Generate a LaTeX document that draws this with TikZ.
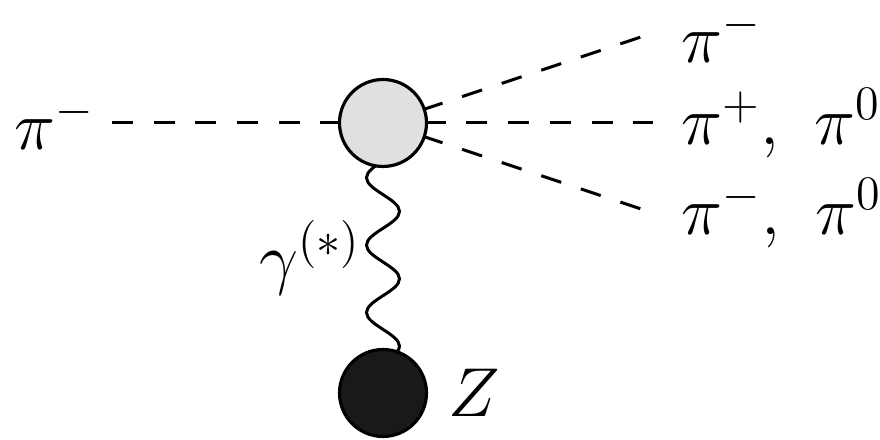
\documentclass[tikz,border=0pt]{standalone}
\usepackage{tikz}
\usetikzlibrary{positioning, decorations.pathmorphing, backgrounds}
\tikzset{
    blob/.style={draw, circle, line width=0.9pt, minimum size=0.87cm, inner sep=0pt},
    vertexblob/.style={blob, fill=black!12},
    nucleusblob/.style={blob, fill=black!90},
    pion/.style={dash pattern=on 2.1mm off 2.07mm, line width=0.85pt},
    photon/.style={decorate, decoration={snake, amplitude=1.65mm, segment length=6.74mm}, line width=0.85pt},
    particle/.style={inner sep=0pt, scale=0.95},
}

\begin{document}
\begin{tikzpicture}[font=\huge]
    \useasboundingbox (-3.83,-3.17) rectangle (4.97,1.23);

    % blobs
    \node[vertexblob] (vertex) at (0,0) {};
    \node[nucleusblob] (nucleus) at (0,-2.70) {};

    % line ends
    \coordinate (in) at (-2.71,0);
    \coordinate (out1) at (2.70,0.90);
    \coordinate (out2) at (2.70,0);
    \coordinate (out3) at (2.70,-0.90);

    % labels
    \node[particle, left=0.17cm of in] (lin) {$\pi^-$};
    \node[particle, right=0.28cm of out1, yshift=-0.03cm] (lout1) {$\pi^-$};
    \node[particle, right=0.28cm of out2] (lout2) {$\pi^+,\,\,\pi^0$};
    \node[particle, right=0.28cm of out3] (lout3) {$\pi^-,\,\,\pi^0$};
    \node[particle, right=0.20cm of nucleus] (lZ) {$Z$};

    % lines behind the blobs
    \begin{scope}[on background layer]
        \draw[pion] (in) -- (vertex.center);
        \draw[pion] (vertex.center) -- (out1);
        \draw[pion] (vertex.center) -- (out2);
        \draw[pion] (vertex.center) -- (out3);
        \draw[photon] (vertex.center) -- node[particle, left=0.21cm] (lgamma) {$\gamma^{(*)}$} (nucleus.center);
    \end{scope}
\end{tikzpicture}
\end{document}
